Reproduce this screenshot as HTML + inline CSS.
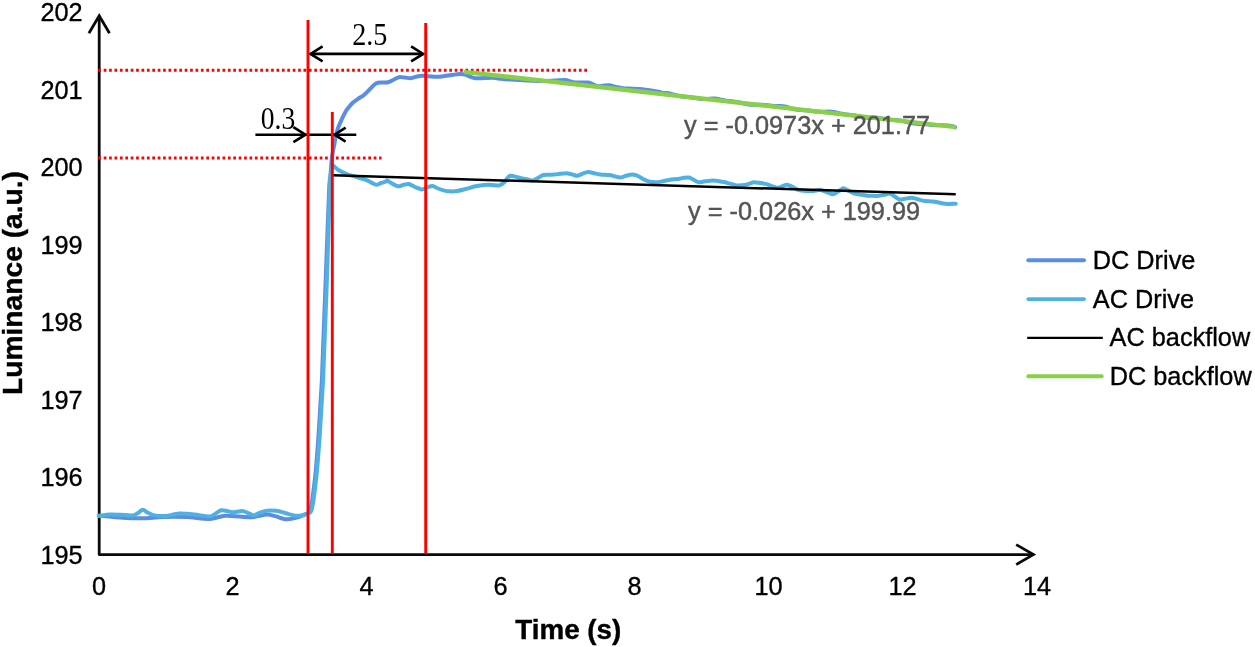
<!DOCTYPE html>
<html><head><meta charset="utf-8"><title>Luminance vs Time</title>
<style>
html,body{margin:0;padding:0;background:#fff;}
body{width:1255px;height:647px;overflow:hidden;position:relative;font-family:"Liberation Sans",sans-serif;}
svg{position:absolute;left:0;top:0;display:block;will-change:transform;}
text{font-family:"Liberation Sans",sans-serif;}
.tick{font-size:25.3px;fill:#000;stroke:#000;stroke-width:0.35px;}
.ttl{font-size:28.2px;font-weight:bold;fill:#000;stroke:#000;stroke-width:0.4px;}
.eq{font-size:25.3px;fill:#555;stroke:#555;stroke-width:0.45px;}
.ser{font-family:"Liberation Serif",serif;font-size:27.6px;fill:#000;}
.leg{font-size:25.3px;fill:#000;stroke:#000;stroke-width:0.35px;}
</style></head><body>
<svg width="1255" height="647" viewBox="0 0 1255 647">
<rect width="1255" height="647" fill="#fff"/>
<!-- axes -->
<g stroke="#0a0a0a" stroke-width="2.8" fill="none" stroke-linecap="butt">
<path d="M99.2,17 V554.6 H1033.5" stroke-linejoin="round"/>
<path d="M88.9,33.3 L99.2,15.8 L109.5,33.3" stroke-linejoin="miter"/>
<path d="M1016.2,544.6 L1033.4,554.6 L1016.2,564.6" stroke-linejoin="miter"/>
</g>
<!-- y tick labels -->
<g class="tick" text-anchor="end">
<text transform="translate(82.6,21.2) scale(1,1.03)">202</text>
<text transform="translate(82.6,98.7) scale(1,1.03)">201</text>
<text transform="translate(82.6,176.2) scale(1,1.03)">200</text>
<text transform="translate(82.6,253.7) scale(1,1.03)">199</text>
<text transform="translate(82.6,331.2) scale(1,1.03)">198</text>
<text transform="translate(82.6,408.6) scale(1,1.03)">197</text>
<text transform="translate(82.6,486.1) scale(1,1.03)">196</text>
<text transform="translate(82.6,563.6) scale(1,1.03)">195</text>
</g>
<g class="tick" text-anchor="middle">
<text transform="translate(99.1,594.6) scale(1,1.03)">0</text>
<text transform="translate(232.5,594.6) scale(1,1.03)">2</text>
<text transform="translate(366.5,594.6) scale(1,1.03)">4</text>
<text transform="translate(500.5,594.6) scale(1,1.03)">6</text>
<text transform="translate(634.5,594.6) scale(1,1.03)">8</text>
<text transform="translate(768.5,594.6) scale(1,1.03)">10</text>
<text transform="translate(902.5,594.6) scale(1,1.03)">12</text>
<text transform="translate(1037,594.6) scale(1,1.03)">14</text>
</g>
<text class="ttl" text-anchor="middle" style="font-size:27.8px" transform="translate(568.3,639) scale(1,1.02)">Time (s)</text>
<text class="ttl" transform="translate(22.3,283) rotate(-90) scale(1,1.01)" text-anchor="middle">Luminance (a.u.)</text>
<!-- dotted red -->
<g stroke="#ff0000" stroke-width="3" fill="none" stroke-dasharray="2.7 2.7">
<path d="M98.3,70.2 H589.5"/>
<path d="M98.3,158 H381.5"/>
</g>
<!-- series -->
<path d="M98.8,515.4 C101.6,515.7 114.0,517.0 119.9,517.4 C125.8,517.8 137.2,518.4 142.8,518.3 C148.4,518.2 156.0,517.2 161.9,517.0 C167.8,516.8 180.4,516.7 186.8,517.0 C193.2,517.3 204.6,519.1 209.7,518.9 C214.8,518.7 220.4,516.1 225.0,515.8 C229.6,515.5 240.3,516.8 244.1,517.0 C247.9,517.2 250.6,517.3 253.7,517.0 C256.8,516.7 264.1,514.5 267.1,514.4 C270.1,514.3 273.5,515.7 276.0,516.4 C278.5,517.1 283.3,519.2 286.2,519.3 C289.1,519.4 295.2,518.1 297.7,517.4 C300.2,516.7 303.7,515.0 305.3,514.4 C306.9,513.8 308.9,513.1 309.5,512.6 C310.1,512.1 309.6,512.6 310.0,511.0 C310.4,509.4 311.7,503.8 312.2,500.6 C312.7,497.4 313.5,490.4 314.0,486.7 C314.5,483.0 315.1,477.7 315.6,472.8 C316.1,467.9 317.0,455.8 317.5,449.6 C318.0,443.4 318.7,432.6 319.1,426.4 C319.5,420.2 320.1,409.4 320.5,403.2 C320.9,397.0 321.6,384.8 321.9,380.0 C322.2,375.2 321.9,380.7 322.4,367.0 C322.9,353.3 324.9,300.6 325.8,277.0 C326.7,253.4 328.5,203.5 329.1,190.0 C329.7,176.5 330.1,180.0 330.4,176.0 C330.7,172.0 331.4,163.3 331.7,160.0 C332.0,156.7 332.6,153.2 333.0,151.0 C333.4,148.8 334.1,145.8 334.5,143.6 C334.9,141.4 335.5,137.0 336.1,134.7 C336.7,132.4 338.0,128.1 338.8,126.0 C339.6,123.9 340.9,121.3 341.8,119.3 C342.7,117.3 344.8,112.9 345.8,111.2 C346.8,109.5 348.5,107.4 349.5,106.3 C350.5,105.2 352.0,103.6 353.1,102.6 C354.2,101.6 356.5,99.8 358.0,98.8 C359.5,97.8 362.4,96.3 364.0,95.0 C365.6,93.7 368.4,90.6 370.0,89.0 C371.6,87.4 374.6,84.1 376.2,83.2 C377.8,82.3 380.4,82.6 382.0,82.5 C383.6,82.4 386.7,82.7 388.3,82.3 C389.9,81.9 392.5,80.2 394.0,79.5 C395.5,78.8 397.9,77.4 399.4,77.1 C400.9,76.8 403.5,77.5 405.0,77.6 C406.5,77.7 409.0,78.3 410.5,78.2 C412.0,78.1 414.5,77.1 416.0,76.8 C417.5,76.5 420.0,75.9 421.6,75.8 C423.2,75.7 426.3,76.1 428.0,76.2 C429.7,76.3 433.1,76.6 434.6,76.7 C436.1,76.8 437.0,77.0 439.0,76.8 C441.0,76.6 446.6,75.7 449.4,75.3 C452.2,74.9 457.8,74.0 460.0,73.9 C462.2,73.8 464.7,74.5 466.0,74.9 C467.3,75.3 468.7,76.1 470.0,76.6 C471.3,77.1 473.6,78.1 475.5,78.3 C477.4,78.5 481.7,78.1 484.0,78.0 C486.3,77.9 490.4,77.6 492.7,77.7 C495.0,77.8 498.7,78.5 501.0,78.8 C503.3,79.1 506.5,79.4 510.0,79.6 C513.5,79.8 522.5,80.3 527.0,80.5 C531.5,80.7 540.3,81.1 544.0,81.1 C547.7,81.1 552.2,80.6 555.0,80.5 C557.8,80.4 563.3,79.9 565.3,80.0 C567.3,80.1 568.7,81.0 570.0,81.3 C571.3,81.6 572.6,82.3 575.0,82.5 C577.4,82.7 585.9,82.2 588.3,82.5 C590.7,82.8 591.7,83.9 593.0,84.4 C594.3,84.9 596.6,86.1 597.9,86.3 C599.2,86.5 601.5,85.9 603.0,85.8 C604.5,85.7 607.6,85.2 609.3,85.3 C611.0,85.4 614.2,86.5 616.0,86.9 C617.8,87.3 619.5,87.9 622.7,88.2 C625.9,88.5 635.0,88.6 640.0,89.1 C645.0,89.6 657.3,91.5 660.0,92.0 C662.7,92.5 659.2,93.0 660.0,93.1 C660.8,93.2 664.4,93.0 666.0,93.1 C667.6,93.2 670.4,93.7 672.0,94.1 C673.6,94.5 676.4,95.4 678.0,95.8 C679.6,96.2 682.4,96.6 684.0,96.8 C685.6,97.0 688.4,97.0 690.0,97.2 C691.6,97.4 694.4,97.9 696.0,98.1 C697.6,98.3 700.4,98.9 702.0,99.0 C703.6,99.1 706.4,99.0 708.0,98.9 C709.6,98.8 712.4,98.5 714.0,98.6 C715.6,98.7 718.4,99.1 720.0,99.4 C721.6,99.7 724.4,100.4 726.0,100.7 C727.6,101.0 730.4,101.1 732.0,101.3 C733.6,101.5 736.4,101.8 738.0,102.1 C739.6,102.4 742.4,103.2 744.0,103.5 C745.6,103.8 748.4,104.5 750.0,104.7 C751.6,104.9 754.4,104.8 756.0,104.8 C757.6,104.8 760.4,104.6 762.0,104.7 C763.6,104.8 766.4,105.1 768.0,105.3 C769.6,105.5 772.4,105.9 774.0,106.0 C775.6,106.1 778.4,106.0 780.0,106.1 C781.6,106.2 784.4,106.5 786.0,106.8 C787.6,107.1 790.4,108.1 792.0,108.5 C793.6,108.9 796.4,109.6 798.0,109.8 C799.6,110.0 802.4,110.1 804.0,110.2 C805.6,110.3 808.4,110.5 810.0,110.7 C811.6,110.9 814.4,111.5 816.0,111.6 C817.6,111.7 820.4,111.8 822.0,111.8 C823.6,111.8 826.4,111.5 828.0,111.5 C829.6,111.5 832.4,111.7 834.0,112.0 C835.6,112.3 838.4,113.1 840.0,113.4 C841.6,113.7 844.4,114.2 846.0,114.4 C847.6,114.6 850.4,114.8 852.0,115.0 C853.6,115.2 856.4,115.9 858.0,116.2 C859.6,116.5 862.4,117.3 864.0,117.5 C865.6,117.7 868.4,117.7 870.0,117.7 C871.6,117.7 874.4,117.3 876.0,117.4 C877.6,117.5 880.4,118.2 882.0,118.5 C883.6,118.8 886.4,119.2 888.0,119.4 C889.6,119.6 892.4,119.8 894.0,119.9 C895.6,120.0 898.4,120.1 900.0,120.4 C901.6,120.7 904.4,121.4 906.0,121.8 C907.6,122.2 910.4,123.1 912.0,123.4 C913.6,123.7 916.4,123.8 918.0,123.9 C919.6,124.0 922.4,124.0 924.0,124.1 C925.6,124.2 928.4,124.6 930.0,124.8 C931.6,125.0 934.4,125.2 936.0,125.3 C937.6,125.4 940.4,125.2 942.0,125.2 C943.6,125.2 946.4,125.2 948.0,125.4 C949.6,125.6 953.1,126.4 954.0,126.7 C954.9,127.0 954.9,127.3 955.0,127.4" fill="none" stroke="#5b8de3" stroke-width="4" stroke-linejoin="round" stroke-linecap="round"/>
<path d="M98.8,516.1 C100.3,515.9 106.8,514.6 110.3,514.5 C113.8,514.4 121.9,514.9 125.0,515.0 C128.1,515.1 131.5,515.7 133.2,515.4 C134.9,515.1 136.7,513.8 138.0,513.0 C139.3,512.2 141.5,509.7 142.8,509.7 C144.1,509.7 146.5,512.0 148.0,512.8 C149.5,513.6 151.9,515.0 154.3,515.4 C156.7,515.8 162.4,516.2 165.7,516.0 C169.0,515.8 175.3,513.8 179.1,513.6 C182.9,513.4 190.3,514.1 194.4,514.5 C198.5,514.9 207.0,516.5 209.7,516.4 C212.4,516.3 213.5,514.7 215.0,513.9 C216.5,513.1 219.6,510.7 221.2,510.3 C222.8,509.9 225.5,510.7 227.0,511.0 C228.5,511.3 230.7,512.2 232.7,512.2 C234.7,512.2 240.2,511.0 242.2,511.1 C244.2,511.2 246.5,512.4 248.0,513.0 C249.5,513.6 252.1,515.4 253.7,515.4 C255.3,515.4 258.2,513.3 260.0,512.7 C261.8,512.1 264.9,511.0 267.1,510.7 C269.3,510.4 274.2,510.4 276.6,510.7 C279.0,511.0 282.7,512.4 285.0,513.0 C287.3,513.6 291.7,515.1 293.9,515.4 C296.1,515.7 299.7,515.6 301.5,515.4 C303.3,515.2 306.1,514.0 307.2,513.6 C308.3,513.2 309.0,512.9 309.5,512.6 C310.0,512.3 310.7,512.6 311.2,511.0 C311.7,509.4 312.9,503.8 313.4,500.6 C313.9,497.4 314.7,490.4 315.2,486.7 C315.7,483.0 316.3,477.7 316.8,472.8 C317.3,467.9 318.2,455.8 318.7,449.6 C319.2,443.4 319.9,432.6 320.3,426.4 C320.7,420.2 321.3,409.4 321.7,403.2 C322.1,397.0 322.8,384.8 323.1,380.0 C323.4,375.2 323.1,380.7 323.6,367.0 C324.1,353.3 326.2,300.6 327.0,277.0 C327.8,253.4 329.2,203.9 329.7,190.0 C330.2,176.1 330.6,176.2 331.0,173.0 C331.4,169.8 332.2,166.9 332.6,166.0 C333.0,165.1 333.4,165.8 334.1,166.3 C334.8,166.8 336.9,168.8 338.0,169.6 C339.1,170.4 341.3,171.6 342.6,172.3 C343.9,173.0 346.3,174.0 348.0,174.6 C349.7,175.2 353.2,175.9 355.5,176.6 C357.8,177.3 363.2,178.9 365.3,179.7 C367.4,180.5 369.5,181.7 371.0,182.4 C372.5,183.1 375.1,184.7 376.4,184.8 C377.7,184.9 379.8,183.4 381.0,183.0 C382.2,182.6 384.9,181.9 385.7,181.6 C386.5,181.3 386.4,180.3 387.2,180.6 C388.0,180.9 390.6,182.8 392.0,183.6 C393.4,184.4 396.4,186.1 397.9,186.3 C399.4,186.5 401.6,185.3 403.0,185.0 C404.4,184.7 407.1,183.7 408.7,184.0 C410.3,184.3 413.3,186.3 415.0,187.0 C416.7,187.7 420.2,189.3 421.8,189.4 C423.4,189.5 425.6,188.0 427.0,187.5 C428.4,187.0 431.1,185.8 432.6,185.9 C434.1,186.0 436.4,187.9 438.0,188.5 C439.6,189.1 442.9,190.2 444.5,190.6 C446.1,191.0 448.4,191.2 450.0,191.3 C451.6,191.4 454.4,191.4 456.5,191.1 C458.6,190.8 463.5,189.5 466.0,188.9 C468.5,188.3 472.7,186.9 475.6,186.3 C478.5,185.7 485.1,184.8 487.6,184.7 C490.1,184.6 492.4,185.1 494.0,185.2 C495.6,185.3 498.1,185.8 499.5,185.4 C500.9,185.0 503.3,183.2 504.3,182.3 C505.3,181.4 506.2,179.5 507.0,178.6 C507.8,177.7 509.2,176.1 510.3,175.8 C511.4,175.5 513.6,176.3 515.0,176.6 C516.4,176.9 519.4,177.8 521.0,178.2 C522.6,178.6 525.4,179.0 527.0,179.3 C528.6,179.6 531.5,180.8 533.0,180.6 C534.5,180.4 536.7,178.7 538.0,178.0 C539.3,177.3 541.3,175.5 542.6,175.1 C543.9,174.7 546.4,174.8 548.0,174.7 C549.6,174.6 552.9,174.7 554.5,174.6 C556.1,174.5 558.4,174.0 560.0,173.8 C561.6,173.6 564.9,173.1 566.5,173.2 C568.1,173.3 570.6,174.1 572.0,174.4 C573.4,174.7 575.9,175.9 577.2,175.8 C578.5,175.7 580.6,174.5 582.0,174.0 C583.4,173.5 586.4,172.1 588.0,172.0 C589.6,171.9 592.4,172.9 594.0,173.2 C595.6,173.5 597.9,174.1 600.0,174.4 C602.1,174.7 607.5,174.8 609.5,175.1 C611.5,175.4 613.6,176.1 615.0,176.4 C616.4,176.7 618.8,177.6 620.3,177.5 C621.8,177.4 624.4,176.2 626.0,175.8 C627.6,175.4 630.9,174.5 632.2,174.4 C633.5,174.3 635.0,174.9 636.0,175.2 C637.0,175.5 638.5,176.3 639.4,176.8 C640.3,177.3 641.9,178.4 643.0,179.0 C644.1,179.6 646.6,180.7 647.8,181.1 C649.0,181.5 650.7,181.8 652.0,182.0 C653.3,182.2 655.8,182.4 657.3,182.3 C658.8,182.2 661.4,181.5 663.0,181.2 C664.6,180.9 667.1,180.2 669.3,179.9 C671.5,179.6 677.6,179.0 679.6,178.7 C681.6,178.4 682.7,178.0 684.0,177.8 C685.3,177.6 687.9,177.3 689.1,177.5 C690.3,177.7 691.7,178.8 693.0,179.4 C694.3,180.0 697.1,182.0 698.7,182.3 C700.3,182.6 703.1,181.5 705.0,181.3 C706.9,181.1 711.1,180.6 713.0,180.6 C714.9,180.6 717.4,181.0 719.0,181.2 C720.6,181.4 723.4,181.9 725.0,182.3 C726.6,182.7 729.4,183.5 731.0,183.9 C732.6,184.3 735.4,185.2 736.9,185.4 C738.4,185.6 740.7,185.3 742.0,185.2 C743.3,185.1 745.4,184.9 746.5,184.7 C747.6,184.5 749.0,183.7 750.0,183.4 C751.0,183.1 752.5,182.4 753.7,182.3 C754.9,182.2 757.4,182.6 759.0,182.8 C760.6,183.0 764.0,183.5 765.6,183.9 C767.2,184.3 769.4,185.3 771.0,185.8 C772.6,186.3 776.1,187.7 777.6,187.8 C779.1,187.9 780.7,186.8 782.0,186.4 C783.3,186.0 785.6,184.6 787.1,184.7 C788.6,184.8 791.4,186.5 793.0,187.2 C794.6,187.9 797.5,189.7 799.1,190.2 C800.7,190.7 803.4,190.8 805.0,190.9 C806.6,191.0 809.5,191.2 811.0,191.1 C812.5,191.0 814.7,190.7 816.0,190.5 C817.3,190.3 819.3,189.7 820.6,189.9 C821.9,190.1 824.4,191.2 826.0,191.8 C827.6,192.4 831.0,194.2 832.6,194.2 C834.2,194.2 836.6,192.4 838.0,191.6 C839.4,190.8 842.0,188.4 843.3,188.2 C844.6,188.0 846.6,189.7 848.0,190.4 C849.4,191.1 852.5,192.9 854.1,193.5 C855.7,194.1 858.4,194.3 860.0,194.6 C861.6,194.9 864.4,195.2 866.0,195.4 C867.6,195.6 870.4,195.7 872.0,195.8 C873.6,195.9 876.4,196.0 878.0,195.9 C879.6,195.8 882.4,195.1 884.0,194.8 C885.6,194.5 888.6,193.3 889.9,193.5 C891.2,193.7 892.7,195.2 894.0,196.0 C895.3,196.8 898.0,199.1 899.5,199.5 C901.0,199.9 903.4,198.9 905.0,198.7 C906.6,198.5 909.9,197.8 911.5,197.8 C913.1,197.8 915.4,198.6 917.0,199.0 C918.6,199.4 921.3,200.4 923.4,200.7 C925.5,201.0 930.9,201.2 933.0,201.4 C935.1,201.6 937.4,202.2 939.0,202.5 C940.6,202.8 942.7,203.6 944.9,203.8 C947.1,204.0 954.3,203.8 955.7,203.8" fill="none" stroke="#4fb0e2" stroke-width="4" stroke-linejoin="round" stroke-linecap="round"/>
<!-- trend lines -->
<path d="M333,175.2 L955.7,194.3" fill="none" stroke="#000" stroke-width="2.5"/>
<path d="M464,71.8 L956.2,127.1" fill="none" stroke="#89cf4a" stroke-width="4.3" stroke-linecap="butt"/>
<!-- dimension arrows -->
<g stroke="#000" stroke-width="2.6" fill="none" stroke-linejoin="miter">
<path d="M310.5,53.9 H423.2"/>
<path d="M322.6,46.4 L310.5,53.9 L322.6,61.4"/>
<path d="M411.1,46.4 L423.2,53.9 L411.1,61.4"/>
<path d="M255.4,134.7 H356.3"/>
<path d="M293.4,127.2 L305.5,134.7 L293.4,142.2"/>
<path d="M345.6,127.7 L334.6,134.7 L345.6,141.7"/>
</g>
<!-- equations -->
<text class="eq" transform="translate(684,134.4) scale(1,1.035)">y = -0.0973x + 201.77</text>
<text class="eq" transform="translate(688.1,220.3) scale(1,1.035)">y = -0.026x + 199.99</text>
<!-- red verticals -->
<g stroke="#ff0000" stroke-width="2.9" fill="none">
<path d="M308,20 V553"/>
<path d="M332.3,112 V553"/>
<path d="M425.7,23 V553"/>
</g>
<text class="ser" transform="translate(352.2,44.6) scale(1.02,1.12)">2.5</text>
<text class="ser" transform="translate(260.7,128.5) scale(1.0,1.13)">0.3</text>
<!-- legend -->
<g fill="none" stroke-linecap="round">
<path d="M1028.3,260.3 H1084" stroke="#5b8de3" stroke-width="3.9"/>
<path d="M1028.3,299.1 H1084" stroke="#4fb0e2" stroke-width="3.9"/>
<path d="M1027.2,337.8 H1102.8" stroke="#000" stroke-width="2.3" stroke-linecap="butt"/>
<path d="M1028.3,376.3 H1101.7" stroke="#89cf4a" stroke-width="3.9"/>
</g>
<g class="leg">
<text transform="translate(1092.8,268.6) scale(1,1.03)">DC Drive</text>
<text transform="translate(1092.8,308) scale(1,1.03)">AC Drive</text>
<text transform="translate(1109.6,346) scale(1,1.03)">AC backflow</text>
<text transform="translate(1109.7,384.7) scale(1,1.03)">DC backflow</text>
</g>
</svg>
</body></html>
